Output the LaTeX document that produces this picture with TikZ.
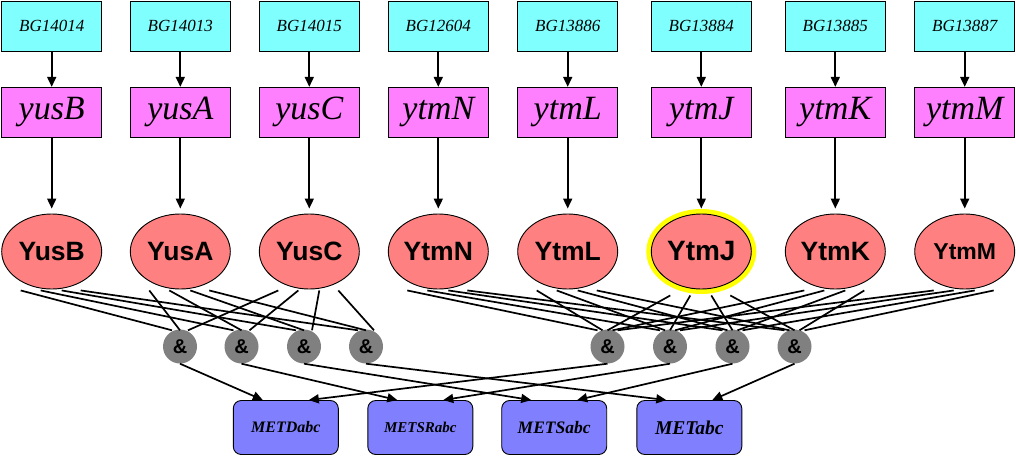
\documentclass[tikz,border=0pt]{standalone}
\usepackage{fontspec}
\setmainfont{Liberation Serif}
\newfontfamily\arialf{Liberation Sans}
\usetikzlibrary{shapes.geometric,arrows.meta,calc}
\definecolor{bgc}{HTML}{80FFFF}
\definecolor{genec}{HTML}{FF80FF}
\definecolor{protc}{HTML}{FF8080}
\definecolor{andc}{HTML}{808080}
\definecolor{opc}{HTML}{8080FF}
\definecolor{haloc}{HTML}{FFFF00}
\tikzset{
  bgbox/.style={draw=black, line width=0.9pt, fill=bgc, minimum width=100pt, minimum height=49.5pt, inner sep=0pt, font=\fontsize{17}{20}\selectfont\itshape},
  genebox/.style={draw=black, line width=0.9pt, fill=genec, minimum width=100pt, minimum height=50pt, inner sep=0pt, font=\fontsize{34}{36}\selectfont\itshape},
  prot/.style={ellipse, draw=black, line width=0.9pt, fill=protc, minimum width=100pt, minimum height=75pt, inner sep=0pt, font=\arialf\bfseries\fontsize{26.5}{28}\selectfont},
  halo/.style={preaction={draw=haloc, line width=10pt}},
  andn/.style={circle, fill=andc, minimum size=34pt, inner sep=0pt, font=\arialf\bfseries\fontsize{20}{22}\selectfont},
  opbox/.style={draw=black, line width=0.9pt, fill=opc, rounded corners=8pt, minimum width=105pt, minimum height=54pt, inner sep=0pt},
  arr/.style={line width=1.7pt, -{Triangle[length=10pt,width=9pt]}},
  link/.style={line width=1.7pt},
}
\begin{document}
\begin{tikzpicture}[x=1pt,y=-1pt]
\useasboundingbox (0,0) rectangle (1016,457);
% top row
\foreach \x/\lab [count=\i] in {51.7/BG14014,180.3/BG14013,309.3/BG14015,438.3/BG12604,567.7/BG13886,701.3/BG13884,835.3/BG13885,964.7/BG13887}
  \node[bgbox] (bg\i) at (\x,26.3) {\lab};
\foreach \x/\lab [count=\i] in {51.7/yusB,180.3/yusA,309.3/yusC,438.3/ytmN,567.7/ytmL,701.3/ytmJ,835.3/ytmK,964.7/ytmM}
  \node[genebox] (g\i) at (\x,112.3) {\lab};
\node[prot] (p1) at (51.7,251.5) {YusB};
\node[prot] (p2) at (180.3,251.5) {YusA};
\node[prot] (p3) at (309.3,251.5) {YusC};
\node[prot] (p4) at (438.3,251.5) {YtmN};
\node[prot] (p5) at (567.7,251.5) {YtmL};
\node[prot, halo, font=\arialf\bfseries\fontsize{28}{30}\selectfont] (p6) at (701.3,251.5) {YtmJ};
\node[prot] (p7) at (835.3,251.5) {YtmK};
\node[prot, font=\arialf\bfseries\fontsize{23}{26}\selectfont] (p8) at (964.7,251.5) {YtmM};
% and nodes
\foreach \x [count=\i] in {180,241.5,304,366,607.5,670,732.5,794.5}
  \node[andn] (a\i) at (\x,346.5) {\&};
% operons
\node[opbox, font=\bfseries\itshape\fontsize{16}{18}\selectfont] (o1) at (285.8,427.5) {METDabc};
\node[opbox, font=\bfseries\itshape\fontsize{15}{18}\selectfont] (o2) at (420.3,427.5) {METSRabc};
\node[opbox, font=\bfseries\itshape\fontsize{17.5}{20}\selectfont] (o3) at (554.2,427.5) {METSabc};
\node[opbox, font=\bfseries\itshape\fontsize{19.5}{22}\selectfont] (o4) at (689.3,427.5) {METabc};
% arrows top
\foreach \i in {1,...,8}{
  \draw[arr] (bg\i) -- (g\i);
  \draw[arr, shorten >=5pt] (g\i) -- (p\i);
}
% left group links
\foreach \s/\ex in {p1/-8,p2/0,p3/8}
  \foreach \t/\dx in {a1/-31,a2/-11,a3/10,a4/29}
    \draw[link] ($(\s.south)+(\dx,1)$) -- ($(\t.north)+(\ex,1)$);
% right group links
\foreach \s/\ex/\dy in {p4/-10/1,p5/-5/1,p6/0/6,p7/5/1,p8/10/1}
  \foreach \t/\dx in {a5/-31,a6/-11,a7/10,a8/29}
    \draw[link] ($(\s.south)+(\dx,\dy)$) -- ($(\t.north)+(\ex,1)$);
% bottom arrows
\draw[arr] (a1.south) -- ($(o1.north)+(-23,0)$);
\draw[arr] (a5.south) -- ($(o1.north)+(23,0)$);
\draw[arr] (a2.south) -- ($(o2.north)+(-23,0)$);
\draw[arr] (a6.south) -- ($(o2.north)+(23,0)$);
\draw[arr] (a3.south) -- ($(o3.north)+(-23,0)$);
\draw[arr] (a7.south) -- ($(o3.north)+(23,0)$);
\draw[arr] (a4.south) -- ($(o4.north)+(-23,0)$);
\draw[arr] (a8.south) -- ($(o4.north)+(23,0)$);
\end{tikzpicture}
\end{document}
